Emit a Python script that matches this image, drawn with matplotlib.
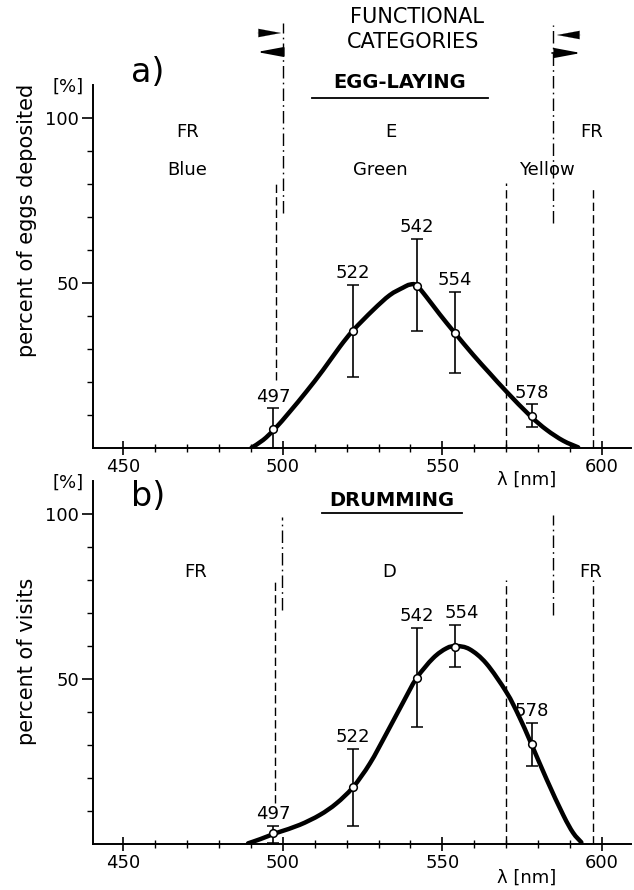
import matplotlib
matplotlib.use("Agg")
import matplotlib.pyplot as plt
from matplotlib.lines import Line2D
from matplotlib.path import Path
from matplotlib.patches import PathPatch, FancyArrowPatch

plt.rcParams['font.family'] = ['DejaVu Sans']

# ---------------- data ----------------
wavelengths = [497, 522, 542, 554, 578]

egg_mean = [5.8, 35.5, 49.2, 34.9, 9.7]
egg_hi = [12.0, 49.4, 63.3, 47.2, 13.2]
egg_lo = [0.0, 21.6, 35.5, 22.8, 6.3]

drum_mean = [3.3, 17.2, 50.2, 59.8, 30.2]
drum_hi = [5.5, 28.8, 65.4, 66.4, 36.6]
drum_lo = [0.3, 5.6, 35.6, 53.5, 23.7]

# hand-drawn fitted curves
egg_curve_x = [490.2, 493.8, 497.5, 502.2, 507.4, 512.6, 517.9, 522.0, 528.3, 533.5,
               537.7, 539.8, 541.9, 545.0, 549.2, 553.9, 559.7, 564.9, 570.1, 577.6,
               582.7, 587.9, 592.6]
egg_curve_y = [0.1, 2.4, 5.8, 11.0, 17.1, 23.6, 30.7, 35.6, 41.8, 46.3,
               48.6, 49.5, 49.3, 45.8, 40.5, 34.9, 28.2, 22.6, 17.1, 9.7,
               5.5, 2.2, 0.2]

drum_curve_x = [489.1, 493.0, 497.0, 499.1, 505.3, 511.6, 516.8, 522.0, 527.3, 532.5,
                537.7, 541.9, 547.1, 551.3, 554.4, 558.6, 563.8, 570.1, 574.0, 577.7,
                582.7, 587.9, 591.0, 593.6]
drum_curve_y = [0.2, 1.5, 3.0, 3.7, 5.8, 8.8, 12.3, 17.2, 24.4, 33.5,
                42.9, 50.2, 56.3, 59.3, 60.0, 59.0, 54.7, 46.0, 38.8, 30.8,
                19.6, 8.8, 3.4, 0.5]

x_ticks = [450, 500, 550, 600]
y_ticks = [50, 100]

# category boundaries (nm) with vertical extents (% units)
egg_dashed = [(497.8, 20.6, 80.3), (570.0, 0.0, 80.3), (597.1, 0.0, 79.0)]
egg_dashdot = [(500.1, 71.2, 128.8), (584.6, 68.2, 128.2)]
drum_dashed = [(497.5, 12.4, 80.6), (570.0, 0.0, 80.0), (597.3, 0.0, 80.0)]
drum_dashdot = [(499.9, 70.9, 99.1), (584.7, 69.4, 99.7)]

W, H = 634, 890
fig = plt.figure(figsize=(W / 100, H / 100), dpi=100)


def fx(x):
    return x / W


def fy(y):
    return 1 - y / H


XMIN, XMAX = 440.5, 609.0
ax_left = 93 / W
ax_w = (XMAX - XMIN) * 3.19 / W
ax_h = 363 / H
ax_a = fig.add_axes([ax_left, (H - 448) / H, ax_w, ax_h])
ax_b = fig.add_axes([ax_left, (H - 844) / H, ax_w, ax_h])

FS_TICK = 13


def style_axes(ax):
    ax.set_xlim(XMIN, XMAX)
    ax.set_ylim(0, 110)
    for s in ['top', 'right']:
        ax.spines[s].set_visible(False)
    for s in ['left', 'bottom']:
        ax.spines[s].set_linewidth(1.4)
    ax.set_xticks(x_ticks)
    ax.set_xticks(list(range(450, 610, 10)), minor=True)
    ax.set_yticks(y_ticks)
    ax.set_yticks(list(range(10, 101, 10)), minor=True)
    ax.tick_params(axis='x', which='major', direction='inout', length=10, width=1.2,
                   labelsize=FS_TICK, pad=2)
    ax.tick_params(axis='x', which='minor', direction='inout', length=6, width=1.0)
    ax.tick_params(axis='y', which='major', direction='out', length=8, width=1.2,
                   labelsize=FS_TICK, pad=2)
    ax.tick_params(axis='y', which='minor', direction='out', length=4, width=1.0)


def smooth_curve(ax, xs, ys, **kw):
    """Draw a smooth line through the read points (Catmull-Rom as cubic Bezier)."""
    pts = list(zip(xs, ys))
    n = len(pts)
    verts = [pts[0]]
    codes = [Path.MOVETO]
    for i in range(n - 1):
        p0 = pts[i - 1] if i > 0 else pts[i]
        p1 = pts[i]
        p2 = pts[i + 1]
        p3 = pts[i + 2] if i + 2 < n else pts[i + 1]
        c1 = (p1[0] + (p2[0] - p0[0]) / 6, p1[1] + (p2[1] - p0[1]) / 6)
        c2 = (p2[0] - (p3[0] - p1[0]) / 6, p2[1] - (p3[1] - p1[1]) / 6)
        verts += [c1, c2, p2]
        codes += [Path.CURVE4] * 3
    ax.add_patch(PathPatch(Path(verts, codes), fill=False, transform=ax.transData, **kw))


def draw_panel(ax, mean, lo, hi, cx, cy, dashed, dashdot, label_dx):
    style_axes(ax)
    for (x, y0, y1) in dashed:
        ax.plot([x, x], [y0, y1], color='k', lw=1.0, dashes=(6, 3), clip_on=False)
    for (x, y0, y1) in dashdot:
        ax.plot([x, x], [y0, y1], color='k', lw=1.0, dashes=(9, 3, 1.2, 3), clip_on=False)
    smooth_curve(ax, cx, cy, edgecolor='k', lw=3.2, capstyle='round', zorder=3)
    yerr = [[m - l for m, l in zip(mean, lo)], [h - m for m, h in zip(mean, hi)]]
    ax.errorbar(wavelengths, mean, yerr=yerr, fmt='o', color='k', ecolor='k',
                elinewidth=1.2, capsize=4, capthick=1.2, markersize=5.5,
                markerfacecolor='white', markeredgecolor='k', markeredgewidth=1.1,
                zorder=4, clip_on=False)
    for w, h, dx in zip(wavelengths, hi, label_dx):
        ax.annotate(str(w), (w, h), xytext=(dx, 2), textcoords='offset points',
                    ha='center', va='bottom', fontsize=FS_TICK)


draw_panel(ax_a, egg_mean, egg_lo, egg_hi, egg_curve_x, egg_curve_y,
           egg_dashed, egg_dashdot, [0, 0, 0, 0, 0])
draw_panel(ax_b, drum_mean, drum_lo, drum_hi, drum_curve_x, drum_curve_y,
           drum_dashed, drum_dashdot, [0, 0, 0, 5, 0])

# ---------------- texts ----------------
def ftext(x, y, s, **kw):
    fig.text(fx(x), fy(y), s, ha=kw.pop('ha', 'center'), va=kw.pop('va', 'center'), **kw)


# header
ftext(417, 17, 'FUNCTIONAL', fontsize=15)
ftext(413, 42, 'CATEGORIES', fontsize=15)

# arrows around the header
arrow_style = '-|>,head_length=1.6,head_width=0.3'
for (tail, tip, stem) in [((257, 33), (281, 33), False), ((283, 52), (257, 52), True),
                          ((581, 35), (557, 35), False), ((552, 53), (581, 53), True)]:
    fig.add_artist(FancyArrowPatch(
        (tail[0], H - tail[1]), (tip[0], H - tip[1]), transform=None,
        arrowstyle=arrow_style, mutation_scale=10, lw=1.2 if stem else 0.1,
        color='k', shrinkA=0, shrinkB=0))

# panel a
ftext(148, 73, 'a)', fontsize=24)
ftext(68, 87, '[%]', fontsize=13)
ftext(400, 83, 'EGG-LAYING', fontsize=14, fontweight='bold')
fig.add_artist(Line2D([fx(312), fx(488)], [fy(98), fy(98)], color='k', lw=1.3))
ftext(188, 132, 'FR', fontsize=13)
ftext(391, 132, 'E', fontsize=13)
ftext(592, 132, 'FR', fontsize=13)
ftext(187, 170, 'Blue', fontsize=13)
ftext(380, 170, 'Green', fontsize=13)
ftext(547, 170, 'Yellow', fontsize=13)
ftext(527, 480, 'λ [nm]', fontsize=13)
ftext(27, 220, 'percent of eggs deposited', fontsize=15, rotation=90)

# panel b
ftext(148, 497, 'b)', fontsize=24)
ftext(68, 483, '[%]', fontsize=13)
ftext(392, 501, 'DRUMMING', fontsize=14, fontweight='bold')
fig.add_artist(Line2D([fx(322), fx(462)], [fy(513), fy(513)], color='k', lw=1.3))
ftext(196, 572, 'FR', fontsize=13)
ftext(389, 572, 'D', fontsize=13)
ftext(591, 572, 'FR', fontsize=13)
ftext(527, 878, 'λ [nm]', fontsize=13)
ftext(27, 661, 'percent of visits', fontsize=15, rotation=90)

fig.savefig('out.png', dpi=100)
